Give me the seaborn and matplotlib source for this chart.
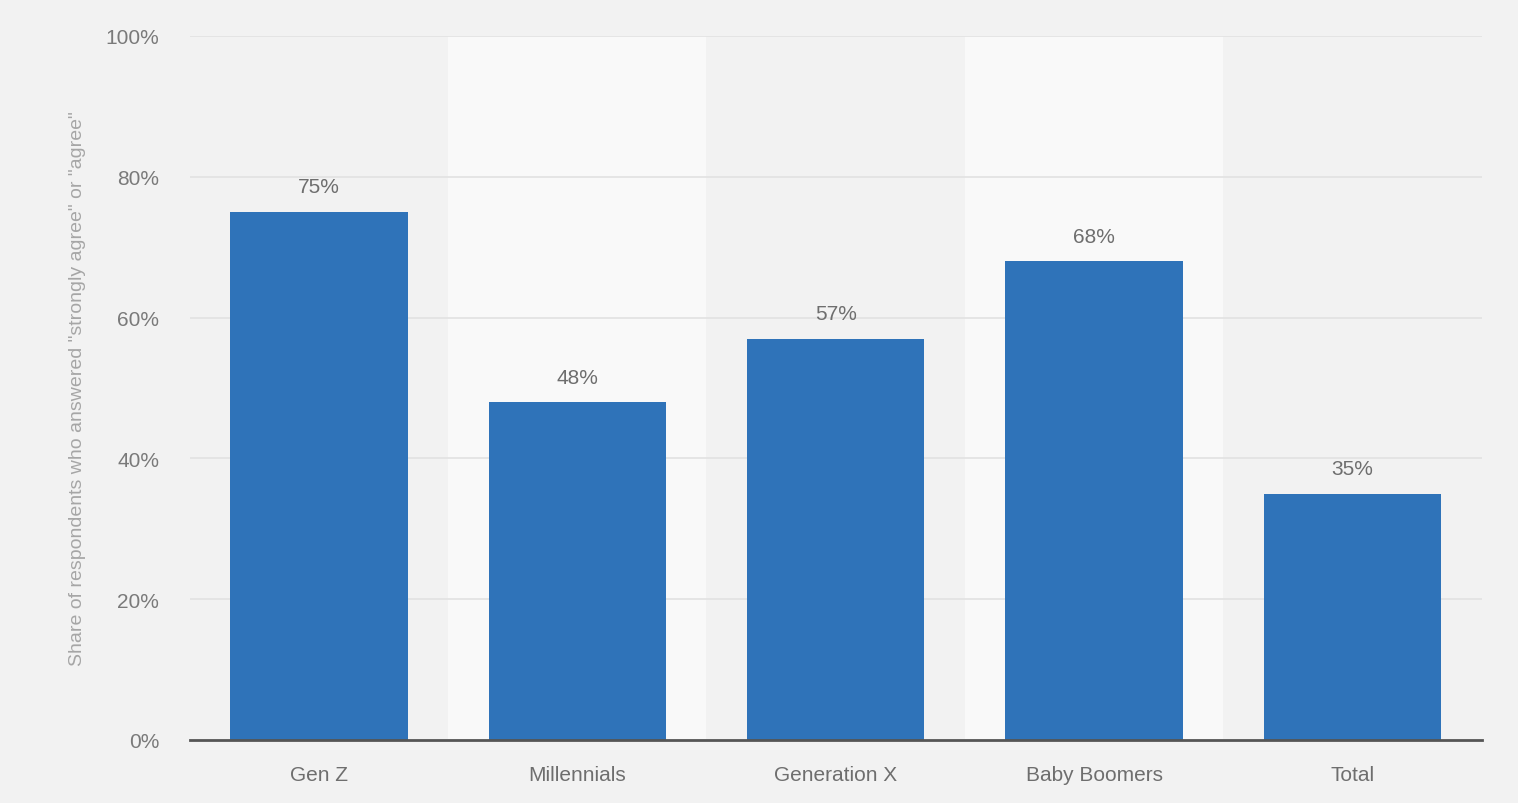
import pandas as pd
import matplotlib.pyplot as plt
import seaborn as sns

categories = ['Gen Z', 'Millennials', 'Generation X', 'Baby Boomers', 'Total']
shares = [75, 48, 57, 68, 35]
y_ticks = [0, 20, 40, 60, 80, 100]

df = pd.DataFrame({'Generation': categories, 'Share': shares})

sns.set_theme(style='white')
plt.rcParams['font.family'] = ['Liberation Sans', 'DejaVu Sans']

fig = plt.figure(figsize=(15.18, 8.04), dpi=100)
fig.patch.set_facecolor('#f2f2f2')
ax = fig.add_axes([0.125, 0.0784, 0.851, 0.8756])
ax.set_facecolor('#f2f2f2')

# lighter bands behind every second category
for i in range(1, len(categories), 2):
    ax.axvspan(i - 0.5, i + 0.5, ymin=0, ymax=1, color='#f9f9f9', zorder=0, lw=0)

for t in y_ticks[1:]:
    ax.axhline(t, color='#e2e2e2', lw=1.2, zorder=1)

sns.barplot(x='Generation', y='Share', data=df, color='#2f73b9', saturation=1,
            width=0.686, linewidth=0, ax=ax, zorder=2)

for i, v in enumerate(shares):
    ax.text(i, v + 2.2, f'{v}%', ha='center', va='bottom', fontsize=15, color='#6e6e6e')

ax.set_xlim(-0.5, 4.5)
ax.set_ylim(0, 100)
ax.set_yticks(y_ticks)
ax.set_yticklabels([f'{t}%' for t in y_ticks])
ax.tick_params(axis='y', length=0, pad=22, labelsize=15, labelcolor='#7a7a7a')
ax.tick_params(axis='x', length=0, pad=18, labelsize=15, labelcolor='#6e6e6e')
ax.set_xlabel('')
ax.set_ylabel('Share of respondents who answered "strongly agree" or "agree"',
              fontsize=14, color='#a6a6a6', labelpad=14)

for s in ['top', 'right', 'left']:
    ax.spines[s].set_visible(False)
ax.spines['bottom'].set_color('#555555')
ax.spines['bottom'].set_linewidth(2)
ax.spines['bottom'].set_zorder(3)

fig.savefig('out.png', dpi=100, facecolor=fig.get_facecolor())
